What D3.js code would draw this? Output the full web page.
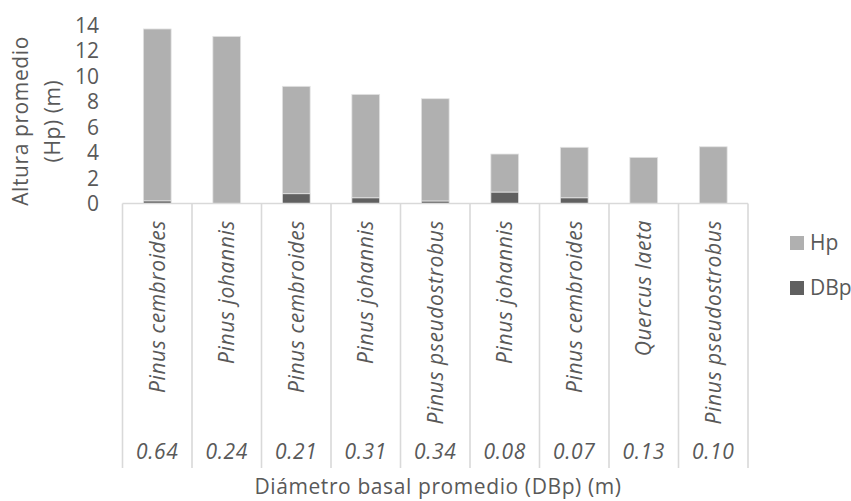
<!DOCTYPE html>
<html>
<head>
<meta charset="utf-8">
<script src="https://cdn.jsdelivr.net/npm/d3@7"></script>
<style>
  html, body { margin: 0; padding: 0; background: #fff; }
  svg { display: block; font-family: "Open Sans", sans-serif; }
</style>
</head>
<body>
<svg id="chart" width="851" height="501"></svg>
<script>
const species = ["Pinus cembroides", "Pinus johannis", "Pinus cembroides", "Pinus johannis",
  "Pinus pseudostrobus", "Pinus johannis", "Pinus cembroides", "Quercus laeta", "Pinus pseudostrobus"];
const dbpLabels = ["0.64", "0.24", "0.21", "0.31", "0.34", "0.08", "0.07", "0.13", "0.10"];
const hpValues = [13.48, 13.11, 8.42, 8.11, 8.02, 2.98, 3.96, 3.62, 4.45];
const dbpValues = [0.21, 0, 0.77, 0.45, 0.2, 0.9, 0.45, 0, 0];
const yTicks = [0, 2, 4, 6, 8, 10, 12, 14];
const seriesNames = ["Hp", "DBp"];

const colors = { Hp: "#b0b0b0", DBp: "#606060" };
const textColor = "#595959";
const gridColor = "#d9d9d9";
const fs = "21px";
const ls = "0.6px";

const svg = d3.select("#chart");
const left = 122.5, right = 748, baseY = 203.5, topY = 25, bottomY = 468;

const x = d3.scaleBand().domain(d3.range(species.length)).range([left, right]).padding(0);
const y = d3.scaleLinear().domain([0, 14]).range([baseY, topY]);
const bw = x.bandwidth() * 0.4;

// Stacked data: DBp bottom, Hp on top
const rows = species.map((s, i) => ({ i, DBp: dbpValues[i], Hp: hpValues[i] }));
const stack = d3.stack().keys(["DBp", "Hp"])(rows);

// Y axis tick labels
const yAxis = d3.axisLeft(y).tickValues(yTicks).tickSize(0).tickPadding(0);
const gy = svg.append("g").attr("transform", `translate(99,0)`).call(yAxis);
gy.select(".domain").remove();
gy.selectAll("text").attr("fill", textColor).style("font-size", fs)
  .style("font-family", "'Open Sans', sans-serif").attr("dy", "0.35em");

// Bars
svg.append("g").selectAll("g").data(stack).join("g")
  .attr("fill", d => colors[d.key])
  .selectAll("rect").data(d => d).join("rect")
  .attr("x", d => x(d.data.i) + (x.bandwidth() - bw) / 2)
  .attr("width", bw)
  .attr("y", d => y(d[1]))
  .attr("height", d => Math.max(0, y(d[0]) - y(d[1])))
  .attr("stroke", "#e4e4e4")
  .attr("stroke-width", d => (d[1] - d[0]) > 0 ? 0.8 : 0);

// Horizontal axis line
svg.append("line").attr("x1", left).attr("x2", right).attr("y1", baseY).attr("y2", baseY)
  .attr("stroke", gridColor).attr("stroke-width", 1.6);

// Category divider lines
const bounds = d3.range(species.length + 1).map(i => i < species.length ? x(i) : right);
svg.append("g").selectAll("line").data(bounds).join("line")
  .attr("x1", d => d).attr("x2", d => d)
  .attr("y1", baseY).attr("y2", bottomY)
  .attr("stroke", gridColor).attr("stroke-width", 1.6);

// Species labels (rotated)
svg.append("g").selectAll("text").data(species).join("text")
  .attr("transform", (d, i) => `translate(${x(i) + x.bandwidth() / 2},220) rotate(-90)`)
  .attr("text-anchor", "end")
  .attr("dy", "0.35em")
  .attr("fill", textColor)
  .style("font-size", fs).style("font-style", "italic").style("letter-spacing", ls)
  .text(d => d);

// DBp value labels
svg.append("g").selectAll("text").data(dbpLabels).join("text")
  .attr("x", (d, i) => x(i) + x.bandwidth() / 2)
  .attr("y", 459)
  .attr("text-anchor", "middle")
  .attr("fill", textColor)
  .style("font-size", fs).style("font-style", "italic").style("letter-spacing", ls)
  .text(d => d);

// Axis titles
svg.append("text")
  .attr("x", 438).attr("y", 494).attr("text-anchor", "middle")
  .attr("fill", textColor).style("font-size", fs).style("letter-spacing", ls)
  .text("Diámetro basal promedio (DBp) (m)");

const yt = svg.append("text")
  .attr("transform", "translate(0,121) rotate(-90)")
  .attr("text-anchor", "middle")
  .attr("fill", textColor).style("font-size", fs).style("letter-spacing", ls);
yt.append("tspan").attr("x", 0).attr("y", 28).text("Altura promedio");
yt.append("tspan").attr("x", 0).attr("y", 60).text("(Hp) (m)");

// Legend
const lg = svg.append("g").selectAll("g").data(seriesNames).join("g")
  .attr("transform", (d, i) => `translate(790,${236 + i * 45})`);
lg.append("rect").attr("width", 14).attr("height", 14).attr("fill", d => colors[d]);
lg.append("text").attr("x", 20).attr("y", 7).attr("dy", "0.35em")
  .attr("fill", textColor).style("font-size", fs).text(d => d);
</script>
</body>
</html>
